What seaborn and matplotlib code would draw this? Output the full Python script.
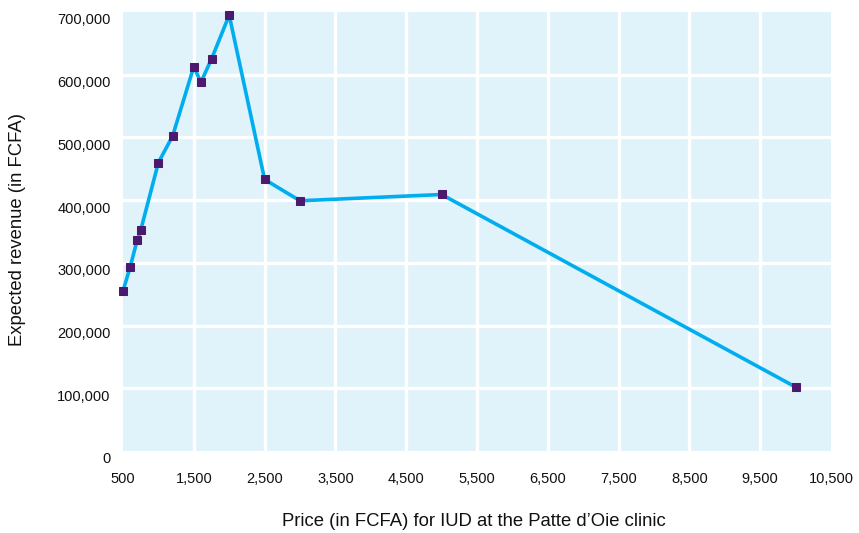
import matplotlib
matplotlib.use("Agg")
import matplotlib.pyplot as plt
import matplotlib.transforms as mtransforms
from matplotlib.ticker import FuncFormatter
import seaborn as sns
import pandas as pd

prices = [500, 600, 700, 750, 1000, 1200, 1500, 1600, 1750, 2000, 2500, 3000, 5000, 10000]
revenue = [255000, 293000, 336000, 352000, 460000, 502000, 613000, 588000, 625000, 695000, 433000, 399000, 409000, 102000]
x_ticks = [500, 1500, 2500, 3500, 4500, 5500, 6500, 7500, 8500, 9500, 10500]
y_ticks = [0, 100000, 200000, 300000, 400000, 500000, 600000, 700000]

df = pd.DataFrame({"price": prices, "revenue": revenue})

sns.set_theme(style="white")
plt.rcParams['font.family'] = ['Liberation Sans', 'DejaVu Sans']

fig = plt.figure(figsize=(8.59, 5.33), dpi=100)
ax = fig.add_axes([123/859, 1 - 451/533, (831-123)/859, (451-12)/533])
ax.set_facecolor("#E0F2FA")

sns.lineplot(data=df, x="price", y="revenue", ax=ax, color="#00AEEF", linewidth=2.6,
             marker="s", markersize=6, markerfacecolor="#4B1A6E", markeredgecolor="#4B1A6E",
             zorder=3, clip_on=False)

ax.set_xlim(500, 10500)
ax.set_ylim(0, 700000)
ax.set_xticks(x_ticks)
ax.set_yticks(y_ticks)
ax.xaxis.set_major_formatter(FuncFormatter(lambda v, p: f"{int(v):,}"))
ax.yaxis.set_major_formatter(FuncFormatter(lambda v, p: f"{int(v):,}"))

for xv in x_ticks[1:-1]:
    ax.axvline(xv, color="white", linewidth=2.4, zorder=1)
for yv in y_ticks[1:-1]:
    ax.axhline(yv, color="white", linewidth=2.4, zorder=1)

for s in ax.spines.values():
    s.set_visible(False)
ax.tick_params(axis="x", length=0, pad=15, labelsize=10.5, colors="#111111")
ax.tick_params(axis="y", length=0, pad=9, labelsize=10.5, colors="#111111")
offset = mtransforms.ScaledTranslation(0, -5/72, fig.dpi_scale_trans)
for lab in ax.get_yticklabels():
    lab.set_transform(lab.get_transform() + offset)

ax.set_xlabel("Price (in FCFA) for IUD at the Patte d\u2019Oie clinic", fontsize=13.3, color="#111111")
ax.set_ylabel("Expected revenue (in FCFA)", fontsize=13.3, color="#111111")
ax.xaxis.set_label_coords((474-123)/(831-123), (451-522)/(451-12), transform=ax.transAxes)
ax.yaxis.set_label_coords((18-123)/(831-123), (451-230)/(451-12), transform=ax.transAxes)
ax.xaxis.label.set_va("center")
ax.yaxis.label.set_va("center")

fig.savefig("out.png", dpi=100)
